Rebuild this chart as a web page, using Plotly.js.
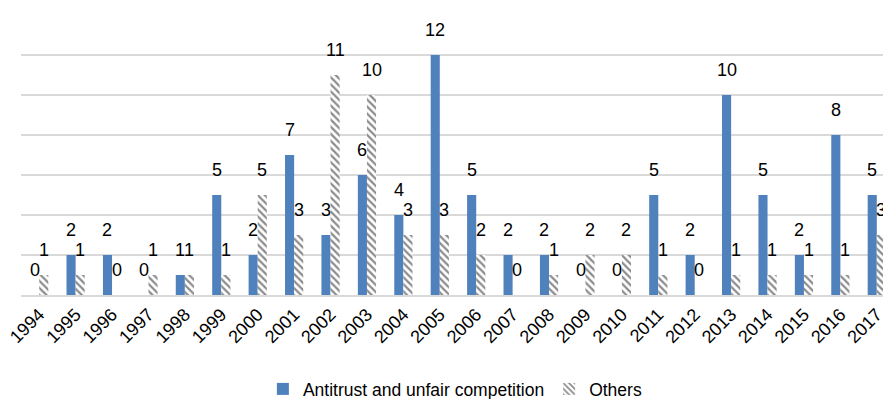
<!DOCTYPE html>
<html>
<head>
<meta charset="utf-8">
<script src="https://cdn.plot.ly/plotly-3.0.1.min.js"></script>
<style>
  html, body { margin: 0; padding: 0; background: #fff; overflow: hidden; width: 883px; height: 399px; }
  #chart { width: 896px; height: 399px; }
</style>
</head>
<body>
<div id="chart"></div>
<script>
// Cases per year, by type
const years = ['1994','1995','1996','1997','1998','1999','2000','2001','2002','2003','2004','2005',
               '2006','2007','2008','2009','2010','2011','2012','2013','2014','2015','2016','2017'];
const antitrust = [0, 2, 2, 0, 1, 5, 2, 7, 3, 6, 4, 12, 5, 2, 2, 0, 0, 5, 2, 10, 5, 2, 8, 5];
const others    = [1, 1, 0, 1, 1, 1, 5, 3, 11, 10, 3, 3, 2, 0, 1, 2, 2, 1, 0, 1, 1, 1, 1, 3];

const FONT = 'Liberation Sans, Arial, sans-serif';
const idx = years.map((_, i) => i);

const traces = [
  {
    type: 'bar',
    name: 'Antitrust and unfair competition',
    x: idx,
    y: antitrust,
    marker: { color: '#4f81bd' },
    hoverinfo: 'y'
  },
  {
    type: 'bar',
    name: 'Others',
    x: idx,
    y: others,
    marker: {
      color: '#ffffff',
      pattern: { shape: '\\', fgcolor: '#8c8c8c', bgcolor: '#ffffff', size: 5, solidity: 0.45 }
    },
    hoverinfo: 'y'
  }
];

// value labels sitting above each bar
const annotations = [];
const half = 0.125;
[[antitrust, -half], [others, half]].forEach(([vals, off]) => {
  vals.forEach((v, i) => {
    annotations.push({
      x: i + off, y: v, xref: 'x', yref: 'y',
      text: String(v), showarrow: false,
      yanchor: 'middle', yshift: 25,
      font: { family: FONT, size: 18, color: '#000' }
    });
  });
});

const layout = {
  width: 896, height: 399,
  margin: { l: 21, r: 1, t: 15, b: 104, autoexpand: false },
  paper_bgcolor: '#fff', plot_bgcolor: '#fff',
  barmode: 'group', bargap: 0.5, bargroupgap: 0,
  showlegend: true,
  legend: {
    orientation: 'h', x: 0.497, xanchor: 'center',
    yref: 'container', y: 0.025, yanchor: 'middle',
    font: { family: FONT, size: 17.5, color: '#000' },
    itemwidth: 30, traceorder: 'normal'
  },
  xaxis: {
    type: 'linear',
    automargin: false,
    range: [-0.5, 23.5],
    tickmode: 'array', tickvals: idx, ticktext: years,
    tickangle: -45,
    tickfont: { family: FONT, size: 18, color: '#000' },
    showgrid: false, zeroline: false,
    showline: true, linecolor: '#d9d9d9', linewidth: 2,
    ticks: ''
  },
  yaxis: {
    automargin: false,
    range: [0, 14], dtick: 2,
    showticklabels: false,
    showgrid: true, gridcolor: '#d9d9d9', gridwidth: 2,
    zeroline: false, showline: false, ticks: ''
  },
  annotations: annotations
};

Plotly.newPlot('chart', traces, layout, { displayModeBar: false, staticPlot: true });
</script>
</body>
</html>
